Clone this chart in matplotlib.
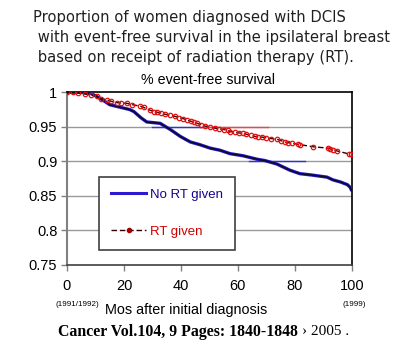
import matplotlib
matplotlib.use("Agg")
import matplotlib.pyplot as plt
from matplotlib.lines import Line2D

# ---- data ----
no_rt_x = [0, 5, 8, 10, 12.5, 15, 18, 22, 23.5, 26, 28, 32.7, 36.3, 39.8, 43.3, 46.7,
           50.3, 53.7, 57.3, 61.8, 66.7, 69.5, 73.7, 78.3, 81.8, 86, 91.3, 93.4, 96,
           98.5, 99.5, 100]
no_rt_y = [1.0, 1.0, 0.999, 0.995, 0.989, 0.982, 0.979, 0.975, 0.972, 0.963, 0.957,
           0.955, 0.946, 0.936, 0.928, 0.924, 0.919, 0.916, 0.911, 0.908, 0.903, 0.901,
           0.896, 0.887, 0.882, 0.880, 0.877, 0.873, 0.870, 0.866, 0.862, 0.857]

rt_x = [0, 2, 4, 6.3, 8.5, 10.5, 12, 14, 15.5, 17.5, 19, 21, 23, 25.6, 27, 29.2, 30.5,
        31.6, 33, 34.5, 36.2, 38, 39.5, 40.7, 42, 43.5, 44.5, 45.7, 47, 48.5, 50.2, 52,
        53.5, 55, 56.5, 57.3, 59, 60.5, 61.8, 63, 64.5, 66, 67, 68.5, 70, 71.5, 73.7,
        75, 76.5, 77.7, 79, 81.2, 82, 86.5, 91.7, 92.5, 93.5, 94.8, 99, 99.6]
rt_y = [1.0, 1.0, 0.999, 0.9975, 0.996, 0.994, 0.991, 0.989, 0.987, 0.985, 0.9845,
        0.984, 0.982, 0.980, 0.978, 0.974, 0.972, 0.971, 0.970, 0.968, 0.967, 0.965,
        0.963, 0.962, 0.960, 0.958, 0.957, 0.955, 0.953, 0.951, 0.950, 0.948, 0.947,
        0.946, 0.945, 0.943, 0.942, 0.941, 0.9405, 0.939, 0.938, 0.936, 0.9357, 0.935,
        0.934, 0.933, 0.932, 0.930, 0.928, 0.927, 0.926, 0.9246, 0.924, 0.921, 0.919,
        0.918, 0.917, 0.915, 0.9106, 0.910]

series_labels = ["No RT given", "RT given"]
x_ticks = [0, 20, 40, 60, 80, 100]
y_ticks = [0.75, 0.8, 0.85, 0.9, 0.95, 1.0]
y_tick_labels = ["0.75", "0.8", "0.85", "0.9", "0.95", "1"]

title_lines = ["Proportion of women diagnosed with DCIS",
               " with event-free survival in the ipsilateral breast",
               " based on receipt of radiation therapy (RT)."]

# ---- figure ----
fig = plt.figure(figsize=(4.09, 3.44), dpi=100)
ax = fig.add_axes([0.1638, 0.2305, 0.6962, 0.5012])

grid_c = "#9a9a9a"
for yv in y_ticks[1:-1]:
    ax.axhline(yv, color=grid_c, lw=1.0, zorder=1)

# coloured fragments of gridlines seen in the reference
ax.plot([30, 46.7], [0.95, 0.95], color="#3030e0", lw=1.0, zorder=1.5)
ax.plot([46.7, 70.6], [0.95, 0.95], color="#ff4040", lw=1.0, zorder=1.5)
ax.plot([64, 83.6], [0.9, 0.9], color="#3030e0", lw=1.0, zorder=1.5)

ax.plot(no_rt_x, no_rt_y, color="#2a1ad0", lw=2.4, zorder=3,
        label=series_labels[0], solid_capstyle="butt")
ax.plot(no_rt_x, no_rt_y, color="#0a0a30", lw=1.2, zorder=3.5)

ax.plot(rt_x, rt_y, color="#300000", lw=1.0, ls=(0, (4, 2)), zorder=4,
        marker="o", ms=3.2, mfc="none", mec="#e01010", mew=0.9,
        label=series_labels[1])

ax.set_xlim(0, 100)
ax.set_ylim(0.75, 1.0)
ax.set_xticks(x_ticks)
ax.set_yticks(y_ticks)
ax.set_yticklabels(y_tick_labels)
ax.tick_params(axis="both", direction="out", length=4, width=1, color="#808080",
               labelsize=10.5, pad=3)
for lab in ax.get_xticklabels() + ax.get_yticklabels():
    lab.set_fontfamily("Liberation Sans")
ax.tick_params(axis="x", pad=6)

ax.spines["left"].set_color("#808080")
ax.spines["left"].set_linewidth(1.5)
ax.spines["bottom"].set_color("#404040")
ax.spines["bottom"].set_linewidth(1.2)
ax.spines["right"].set_color("black")
ax.spines["right"].set_linewidth(1.2)
ax.spines["top"].set_color("black")
ax.spines["top"].set_linewidth(1.2)

# legend
h_blue = Line2D([], [], color="#2a1ad0", lw=2.2)
h_red = Line2D([], [], color="#300000", lw=1.0, ls=(0, (4, 2)), marker="o", ms=3,
               mfc="#a00000", mec="#a00000")
leg = ax.legend([h_blue, h_red], series_labels, loc="upper left",
                bbox_to_anchor=(0.112, 0.509), frameon=True, fancybox=False,
                edgecolor="#404040", framealpha=1.0, borderpad=0.9,
                labelspacing=1.85, handlelength=2.7, handletextpad=0.3,
                borderaxespad=0.0,
                prop={"family": "Liberation Sans", "size": 9.5})
leg.get_frame().set_linewidth(1.2)
leg.get_texts()[0].set_color("#1a0090")
leg.get_texts()[1].set_color("#d00000")
leg.set_zorder(5)

# titles
ys = [0.948, 0.890, 0.832]
for t, yy in zip(title_lines, ys):
    fig.text(0.081, yy, t, fontsize=10.6, family="DejaVu Sans", color="#202020",
             ha="left", va="center")
fig.text(0.508, 0.768, "% event-free survival", fontsize=10.3,
         family="Liberation Sans", ha="center", va="center")

fig.text(0.135, 0.116, "(1991/1992)", fontsize=5.8, family="Liberation Sans",
         ha="left", va="center")
fig.text(0.257, 0.100, "Mos after initial diagnosis", fontsize=10.4,
         family="Liberation Sans", ha="left", va="center")
fig.text(0.838, 0.116, "(1999)", fontsize=5.8, family="Liberation Sans",
         ha="left", va="center")

fig.text(0.142, 0.035, "Cancer Vol.104, 9 Pages: 1840-1848", fontsize=11.4,
         family="Liberation Serif", weight="bold", ha="left", va="center")
fig.text(0.738, 0.035, "\u203a 2005 .", fontsize=11,
         family="Liberation Serif", ha="left", va="center")

fig.savefig("out.png", dpi=100)
